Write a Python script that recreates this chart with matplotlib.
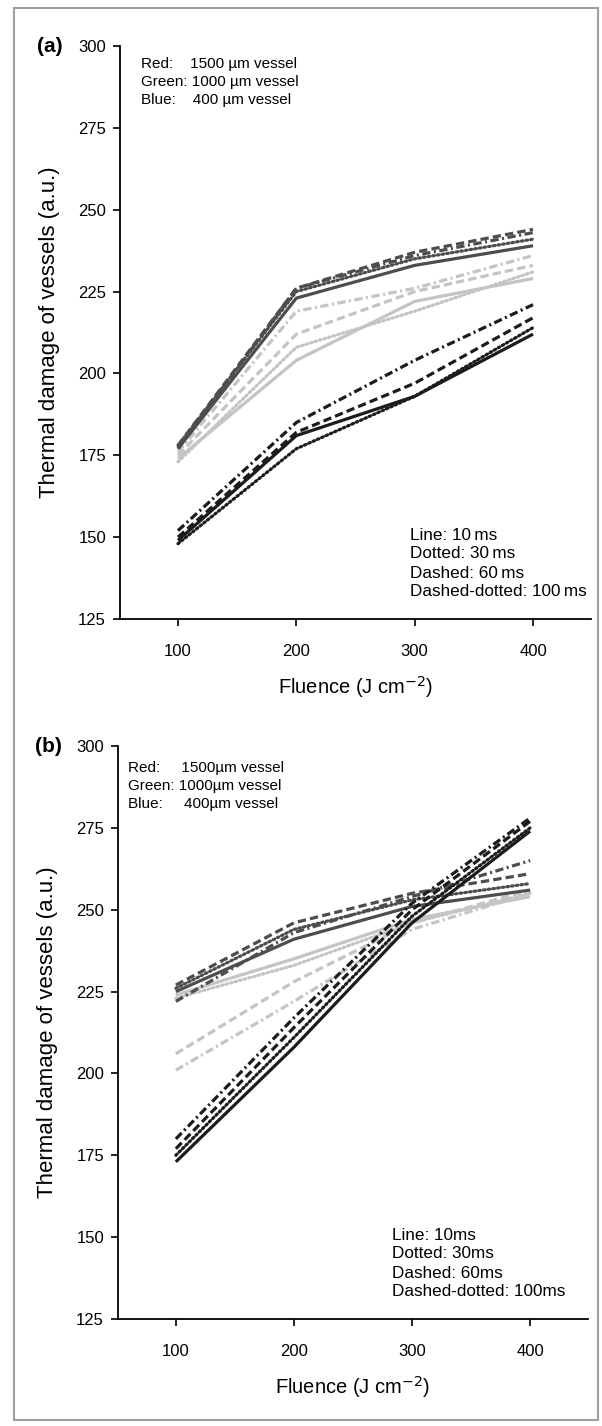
import matplotlib
matplotlib.use("Agg")
import matplotlib.pyplot as plt
from matplotlib.patches import Rectangle

plt.rcParams['font.family'] = ['Liberation Sans', 'DejaVu Sans']
plt.rcParams['lines.scale_dashes'] = False

fluence = [100, 200, 300, 400]
yticks = [125, 150, 175, 200, 225, 250, 275, 300]
xticks = [100, 200, 300, 400]

# Panel (a) values: vessel -> pulse duration
a_red_10 = [177, 223, 233, 239]
a_red_30 = [178, 225, 235, 241]
a_red_60 = [178, 226, 237, 244]
a_red_100 = [177, 226, 236, 243]
a_green_10 = [174, 204, 222, 229]
a_green_30 = [173, 208, 219, 231]
a_green_60 = [175, 212, 225, 233]
a_green_100 = [176, 219, 226, 236]
a_blue_10 = [149, 181, 193, 212]
a_blue_30 = [148, 177, 193, 214]
a_blue_60 = [150, 182, 197, 217]
a_blue_100 = [152, 185, 204, 221]

# Panel (b)
b_red_10 = [225, 241, 251, 256]
b_red_30 = [226, 244, 253, 258]
b_red_60 = [227, 246, 255, 261]
b_red_100 = [222, 243, 254, 265]
b_green_10 = [224, 235, 247, 254]
b_green_30 = [223, 233, 246, 255]
b_green_60 = [206, 228, 246, 256]
b_green_100 = [201, 222, 244, 255]
b_blue_10 = [173, 208, 246, 274]
b_blue_30 = [175, 211, 248, 275]
b_blue_60 = [177, 214, 250, 277]
b_blue_100 = [180, 217, 252, 278]

vessel_labels = ["Red:    1500 \u00b5m vessel", "Green: 1000 \u00b5m vessel", "Blue:    400 \u00b5m vessel"]
vessel_labels_b = ["Red:     1500\u00b5m vessel", "Green: 1000\u00b5m vessel", "Blue:     400\u00b5m vessel"]
duration_labels_a = ["Line: 10\u2009ms", "Dotted: 30\u2009ms", "Dashed: 60\u2009ms", "Dashed-dotted: 100\u2009ms"]
duration_labels_b = ["Line: 10ms", "Dotted: 30ms", "Dashed: 60ms", "Dashed-dotted: 100ms"]

colors = {'red': '#4d4d4d', 'green': '#c4c4c4', 'blue': '#1c1c1c'}
styles = {10: '-', 30: (0, (1.2, 2.2)), 60: (0, (6, 3)), 100: (0, (6, 2.5, 1.5, 2.5))}

W, H = 602, 1426
fig = plt.figure(figsize=(W / 100, H / 100), dpi=100)
fig.patches.append(Rectangle((14 / W, 1 - 1420 / H), (598 - 14) / W, (1420 - 8) / H,
                             transform=fig.transFigure, fill=False, ec='#a0a0a0', lw=1.5))


def px_axes(l, r, t, b):
    return fig.add_axes([l / W, 1 - b / H, (r - l) / W, (b - t) / H])


def draw(ax, data, xlim):
    order = ['green', 'red', 'blue']
    for v in order:
        for d in [10, 30, 60, 100]:
            ax.plot(fluence, data[(v, d)], color=colors[v], linestyle=styles[d], lw=2.3,
                    dash_capstyle='round' if d == 30 else 'butt', solid_capstyle='butt')
    ax.set_xlim(*xlim)
    ax.set_ylim(125, 300)
    ax.set_xticks(xticks)
    ax.set_yticks(yticks)
    for s in ['top', 'right']:
        ax.spines[s].set_visible(False)
    ax.spines['left'].set_linewidth(1.3)
    ax.spines['bottom'].set_linewidth(1.3)
    ax.tick_params(direction='out', length=5, width=1.2, labelsize=12)
    ax.tick_params(axis='x', pad=13)
    ax.tick_params(axis='y', pad=5)
    ax.set_ylabel("Thermal damage of vessels (a.u.)", fontsize=16, labelpad=13)
    ax.set_xlabel("Fluence (J cm$^{-2}$)", fontsize=14.5, labelpad=11)


data_a = {('red', 10): a_red_10, ('red', 30): a_red_30, ('red', 60): a_red_60, ('red', 100): a_red_100,
          ('green', 10): a_green_10, ('green', 30): a_green_30, ('green', 60): a_green_60, ('green', 100): a_green_100,
          ('blue', 10): a_blue_10, ('blue', 30): a_blue_30, ('blue', 60): a_blue_60, ('blue', 100): a_blue_100}
data_b = {('red', 10): b_red_10, ('red', 30): b_red_30, ('red', 60): b_red_60, ('red', 100): b_red_100,
          ('green', 10): b_green_10, ('green', 30): b_green_30, ('green', 60): b_green_60, ('green', 100): b_green_100,
          ('blue', 10): b_blue_10, ('blue', 30): b_blue_30, ('blue', 60): b_blue_60, ('blue', 100): b_blue_100}

axa = px_axes(120, 591, 46, 619)
draw(axa, data_a, (51, 449))
axb = px_axes(118, 588, 746, 1319)
draw(axb, data_b, (51, 449))

# panel letters
fig.text(37 / W, 1 - 46 / H, "(a)", fontsize=15, fontweight='bold', va='center', ha='left')
fig.text(35 / W, 1 - 746 / H, "(b)", fontsize=15, fontweight='bold', va='center', ha='left')

for i, s in enumerate(vessel_labels):
    fig.text(141 / W, 1 - (64 + 18 * i) / H, s, fontsize=11, va='center', ha='left')
for i, s in enumerate(vessel_labels_b):
    fig.text(128 / W, 1 - (768 + 18 * i) / H, s, fontsize=11, va='center', ha='left')
for i, s in enumerate(duration_labels_a):
    fig.text(410 / W, 1 - (535 + 19 * i) / H, s, fontsize=12.3, va='center', ha='left')
for i, s in enumerate(duration_labels_b):
    fig.text(392 / W, 1 - (1235 + 19 * i) / H, s, fontsize=12.3, va='center', ha='left')

fig.savefig("out.png", dpi=100)
